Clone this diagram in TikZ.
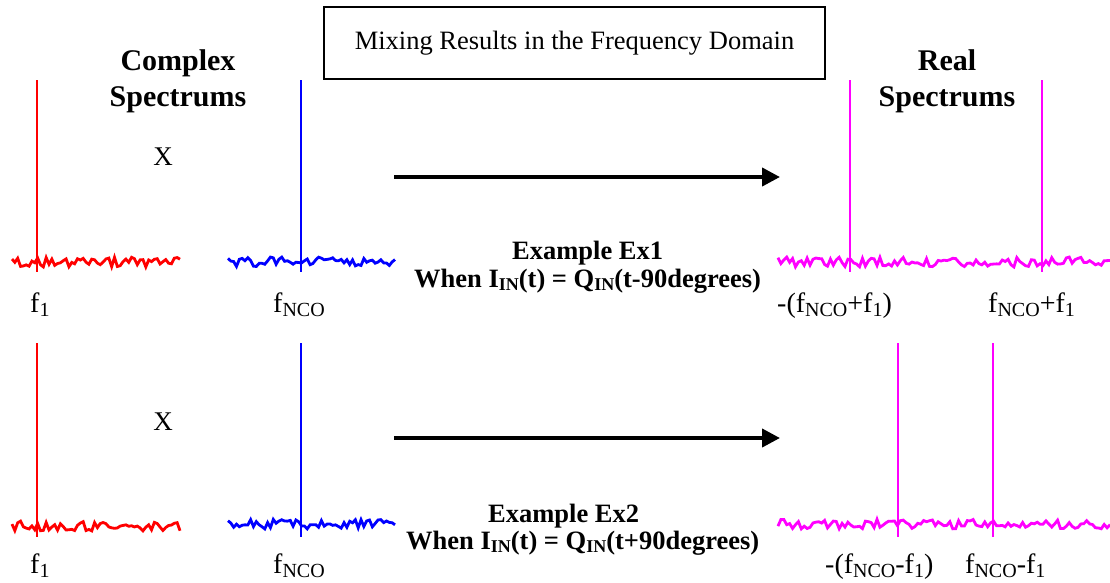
\documentclass[tikz,border=0pt]{standalone}
\usepackage{fontspec}
\setmainfont{Liberation Serif}
\usetikzlibrary{arrows.meta}
\definecolor{mag}{RGB}{255,0,255}
\definecolor{rd}{RGB}{255,0,0}
\definecolor{bl}{RGB}{0,0,255}
\newcommand\lsub[1]{\raisebox{-4pt}{\fontsize{20}{20}\selectfont #1}}
\newcommand\bsub[1]{\raisebox{-3pt}{\fontsize{18}{18}\selectfont\bfseries #1}}
\tikzset{
  lbl/.style={inner sep=0pt, anchor=base west, font=\fontsize{28}{28}\selectfont},
  head/.style={inner sep=0pt, anchor=base, font=\fontsize{30}{30}\selectfont\bfseries},
  exm/.style={inner sep=0pt, anchor=base west, font=\fontsize{26.5}{26.5}\selectfont\bfseries},
  spike/.style={line width=2.5pt},
  noisy/.style={line width=2.8pt, line join=miter},
  bigarrow/.style={line width=4pt, -{Triangle[length=18pt,width=18pt]}},
}
% colour, x0, x1, y, samples
\newcommand\noise[5]{\draw[#1, noisy] plot[domain=#2:#3, samples=#5] (\x, {#4 + 5*rand});}
\begin{document}
\begin{tikzpicture}[x=1pt,y=-1pt]
\useasboundingbox (0,0) rectangle (1110,582);
\pgfmathsetseed{42}
% title box
\node[draw, line width=2pt, minimum width=501pt, minimum height=72pt, inner sep=0pt,
      font=\fontsize{26.5}{26.5}\selectfont] (title) at (574.5,43) {Mixing Results in the Frequency Domain};
% headings
\node[head] (cx1) at (178,70) {Complex};
\node[head] (cx2) at (178,106) {Spectrums};
\node[head] (re1) at (947,70) {Real};
\node[head] (re2) at (947,106) {Spectrums};
% X marks
\node[inner sep=0pt, font=\fontsize{27}{27}\selectfont] (x1) at (163,157) {X};
\node[inner sep=0pt, font=\fontsize{27}{27}\selectfont] (x2) at (163,422) {X};
% arrows
\coordinate (a1s) at (394,177); \coordinate (a1e) at (780,177);
\coordinate (a2s) at (394,438); \coordinate (a2e) at (780,438);
\draw[bigarrow] (a1s) -- (a1e);
\draw[bigarrow] (a2s) -- (a2e);
% ---- top row
\noise{rd}{12}{180}{262}{60}
\noise{bl}{228}{395}{262}{60}
\noise{mag}{778}{1110}{262}{115}
\draw[rd, spike] (37,80) -- (37,272);
\draw[bl, spike] (301,80) -- (301,272);
\draw[mag, spike] (850,80) -- (850,272);
\draw[mag, spike] (1042,80) -- (1042,272);
\node[lbl] (l1) at (30,312) {f\lsub{1}};
\node[lbl] (l2) at (273,312) {f\lsub{NCO}};
\node[lbl] (l3) at (777,312) {-(f\lsub{NCO}+f\lsub{1})};
\node[lbl] (l4) at (988,312) {f\lsub{NCO}+f\lsub{1}};
\node[exm] (e1) at (512,259) {Example Ex1};
\node[exm] (w1) at (414,287) {When I\bsub{IN}(t) = Q\bsub{IN}(t-90degrees)};
% ---- bottom row
\noise{rd}{12}{180}{526}{60}
\noise{bl}{228}{395}{524}{60}
\noise{mag}{778}{1110}{524}{115}
\draw[rd, spike] (37,343) -- (37,537);
\draw[bl, spike] (301,343) -- (301,537);
\draw[mag, spike] (898,343) -- (898,537);
\draw[mag, spike] (993,343) -- (993,537);
\node[lbl] (l5) at (30,573) {f\lsub{1}};
\node[lbl] (l6) at (273,573) {f\lsub{NCO}};
\node[lbl] (l7) at (825,573) {-(f\lsub{NCO}-f\lsub{1})};
\node[lbl] (l8) at (965,573) {f\lsub{NCO}-f\lsub{1}};
\node[exm] (e2) at (488,522) {Example Ex2};
\node[exm] (w2) at (406,549) {When I\bsub{IN}(t) = Q\bsub{IN}(t+90degrees)};
\end{tikzpicture}
\end{document}
